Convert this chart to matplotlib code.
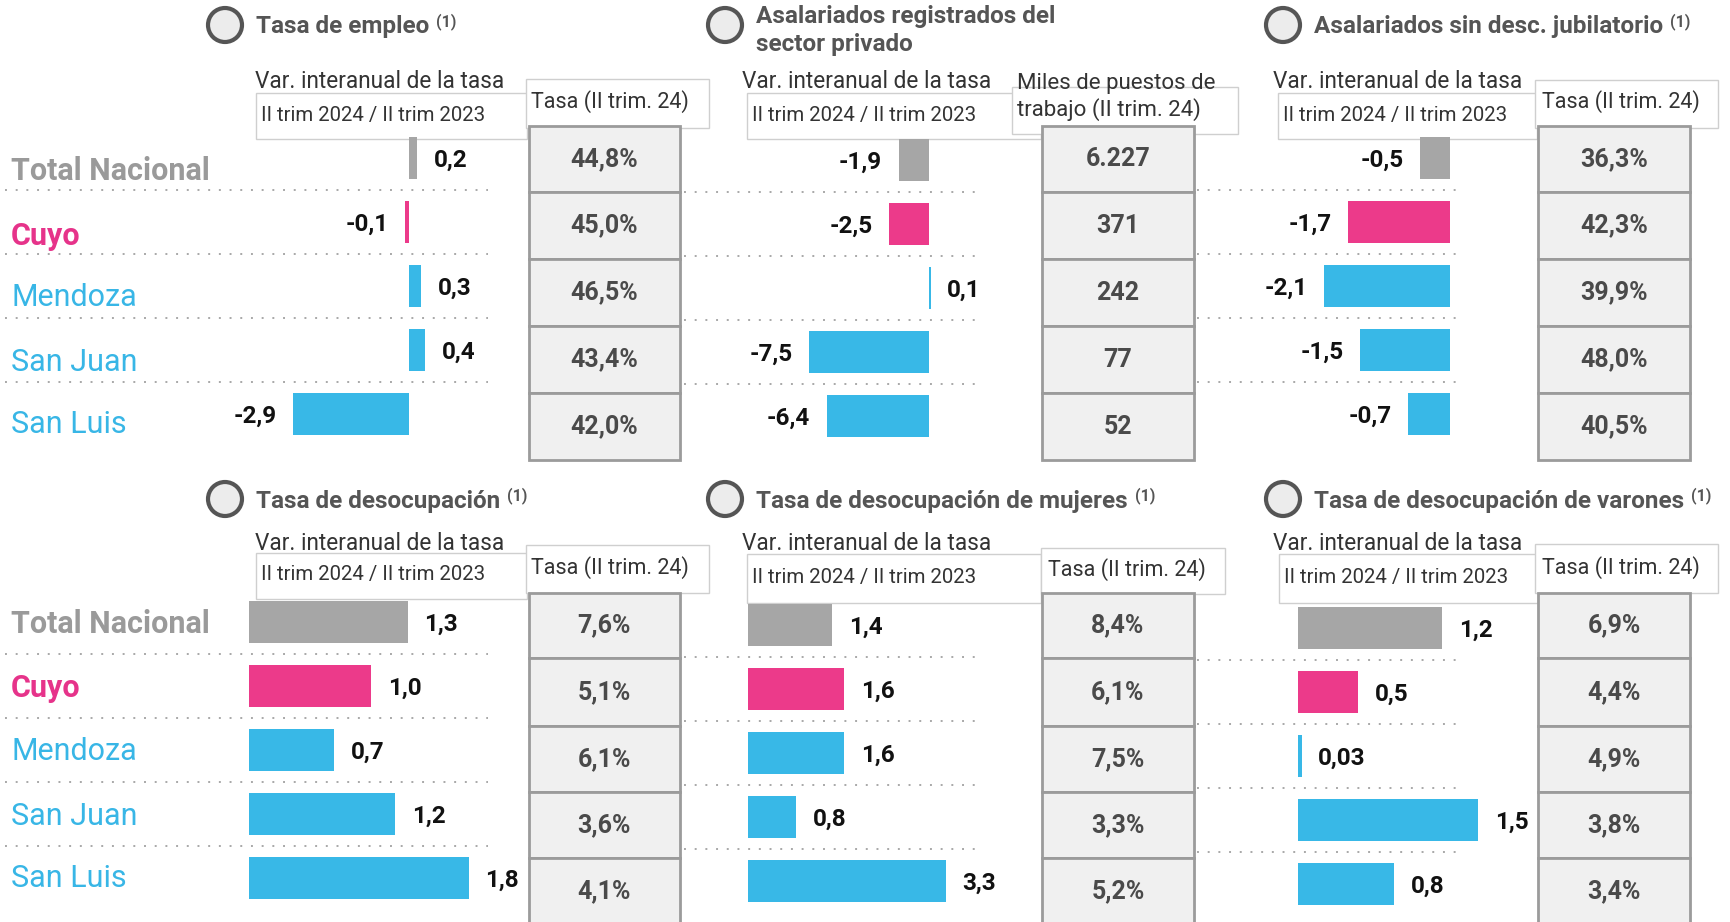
import matplotlib
matplotlib.use("Agg")
import matplotlib.pyplot as plt
from matplotlib.patches import Rectangle, Circle

plt.rcParams['font.family'] = ['Roboto', 'DejaVu Sans']

W, H = 1730, 922

regiones = ["Total Nacional", "Cuyo", "Mendoza", "San Juan", "San Luis"]

var_empleo = [0.2, -0.1, 0.3, 0.4, -2.9]
tasa_empleo = [44.8, 45.0, 46.5, 43.4, 42.0]
var_asal_reg = [-1.9, -2.5, 0.1, -7.5, -6.4]
miles_asal_reg = ["6.227", "371", "242", "77", "52"]
var_asal_sin = [-0.5, -1.7, -2.1, -1.5, -0.7]
tasa_asal_sin = [36.3, 42.3, 39.9, 48.0, 40.5]
var_desoc = [1.3, 1.0, 0.7, 1.2, 1.8]
tasa_desoc = [7.6, 5.1, 6.1, 3.6, 4.1]
var_desoc_muj = [1.4, 1.6, 1.6, 0.8, 3.3]
tasa_desoc_muj = [8.4, 6.1, 7.5, 3.3, 5.2]
var_desoc_var = [1.2, 0.5, 0.03, 1.5, 0.8]
tasa_desoc_var = [6.9, 4.4, 4.9, 3.8, 3.4]

GRIS, ROSA, CELESTE = "#a6a6a6", "#ec3a8a", "#38b8e7"
colores_barra = [GRIS, ROSA, CELESTE, CELESTE, CELESTE]
colores_region = ["#9a9a9a", "#e6338a", "#38b6e6", "#38b6e6", "#38b6e6"]


def coma(v):
    s = f"{v:.2f}" if abs(v) < 0.1 and v != 0 and abs(v * 10 - round(v * 10)) > 1e-6 else f"{v:.1f}"
    return s.replace(".", ",")


fig = plt.figure(figsize=(W / 100, H / 100), dpi=100)
bg = fig.add_axes([0, 0, 1, 1])
bg.set_xlim(0, W)
bg.set_ylim(H, 0)
bg.axis("off")


def titulo(cx, cy, lineas, sup=True):
    bg.add_patch(Circle((cx, cy), 17, facecolor="#ececec", edgecolor="#555555", lw=3, zorder=3))
    if len(lineas) == 1:
        t = bg.text(cx + 31, cy + 2, lineas[0], fontsize=17.5, fontweight="bold", color="#555555",
                    va="center", ha="left")
        if sup:
            bg.annotate("(1)", xy=(1, 1), xycoords=t, xytext=(5, 2), textcoords="offset points",
                        fontsize=11.5, fontweight="bold", color="#555555", va="top", ha="left")
    else:
        bg.text(cx + 31, cy - 8, lineas[0], fontsize=17.5, fontweight="bold", color="#555555", va="center")
        bg.text(cx + 31, cy + 20, lineas[1], fontsize=17.5, fontweight="bold", color="#555555", va="center")


def caja(x0, y0, x1, y1):
    bg.add_patch(Rectangle((x0, y0), x1 - x0, y1 - y0, facecolor="white", edgecolor="#cfcfcf", lw=1, zorder=1))


def encabezado(xv, yv, ii_box, yii, col_box, col_lines, col_text_xy):
    bg.text(xv, yv, "Var. interanual de la tasa", fontsize=16.3, color="#333333", va="center", zorder=4)
    caja(*ii_box)
    bg.text(ii_box[0] + 5, yii, "II trim 2024 / II trim 2023", fontsize=14.7, color="#333333",
            va="center", zorder=4)
    caja(*col_box)
    tx, ty = col_text_xy
    fs = 15.5 if len(col_lines) == 1 else 16
    for k, ln in enumerate(col_lines):
        bg.text(tx, ty + 26 * k, ln, fontsize=fs, color="#333333", va="center", zorder=4)


def tabla(x0, x1, filas, textos):
    for i, txt in enumerate(textos):
        y0, y1 = filas[i], filas[i + 1]
        bg.add_patch(Rectangle((x0, y0), x1 - x0, y1 - y0, facecolor="#f0f0f0", edgecolor="#9b9b9b",
                               lw=2, zorder=2))
        bg.text((x0 + x1) / 2, (y0 + y1) / 2, txt, fontsize=18, fontweight="bold", color="#4a4a4a",
                ha="center", va="center", zorder=3)


def barras(vals, x_left, x_right, zero, escala, c_top, paso=64, alto=42):
    y_top = c_top - paso / 2
    y_bot = c_top + 4 * paso + paso / 2
    ax = fig.add_axes([x_left / W, 1 - y_bot / H, (x_right - x_left) / W, (y_bot - y_top) / H])
    ax.patch.set_alpha(0)
    ax.set_xlim((x_left - zero) / escala, (x_right - zero) / escala)
    ax.set_ylim(4.5, -0.5)
    ax.barh(range(len(vals)), vals, height=alto / paso, color=colores_barra, zorder=2, clip_on=False)
    for i in range(len(vals) - 1):
        ax.axhline(i + 0.5, color="#a8a8a8", lw=1.4, ls=(0, (1, 4.5)), zorder=1)
    for i, v in enumerate(vals):
        off = 12 if v >= 0 else -12
        ax.annotate(coma(v), xy=(v, i), xytext=(off, -2), textcoords="offset points",
                    ha="left" if v >= 0 else "right", va="center", fontsize=17.5,
                    fontweight="bold", color="#111111", annotation_clip=False)
    ax.axis("off")
    return ax


def etiquetas_regiones(bases):
    for i, (r, b) in enumerate(zip(regiones, bases)):
        bold = i < 2
        bg.text(11, b, r, fontsize=22, fontweight="bold" if bold else "normal",
                color=colores_region[i], va="baseline", ha="left")


pct = lambda vals: [coma(v) + "%" for v in vals]

filas_sup = [126, 192, 259, 326, 393, 460]
filas_inf = [593, 658, 726, 792, 858, 924]

# ---- fila superior ----
titulo(225, 25, ["Tasa de empleo"])
encabezado(255, 82, (256, 93, 527, 139), 115, (526, 79, 709, 128), ["Tasa (II trim. 24)"], (531, 102))
tabla(529, 680, filas_sup, pct(tasa_empleo))
etiquetas_regiones([180, 245, 306, 371, 433])
barras(var_empleo, 5, 488, 409, 40, 158)

titulo(725, 25, ["Asalariados registrados del", "sector privado"], sup=False)
encabezado(742, 82, (747, 93, 1041, 139), 115, (1012, 87, 1238, 134),
           ["Miles de puestos de", "trabajo (II trim. 24)"], (1017, 84))
tabla(1042, 1194, filas_sup, miles_asal_reg)
barras(var_asal_reg, 684, 976, 929, 16, 160)

titulo(1283, 25, ["Asalariados sin desc. jubilatorio"])
encabezado(1273, 82, (1278, 93, 1537, 139), 115, (1535, 80, 1718, 128), ["Tasa (II trim. 24)"], (1542, 102))
tabla(1538, 1690, filas_sup, pct(tasa_asal_sin))
barras(var_asal_sin, 1197, 1463, 1450, 60, 158)

# ---- fila inferior ----
titulo(225, 499, ["Tasa de desocupación"])
encabezado(255, 543, (256, 553, 527, 599), 574, (526, 545, 709, 593), ["Tasa (II trim. 24)"], (531, 568))
tabla(529, 680, filas_inf, pct(tasa_desoc))
etiquetas_regiones([633, 697, 760, 825, 887])
barras(var_desoc, 5, 488, 249, 122, 622)

titulo(725, 499, ["Tasa de desocupación de mujeres"])
encabezado(742, 543, (747, 554, 1041, 603), 577, (1041, 548, 1225, 594), ["Tasa (II trim. 24)"], (1048, 570))
tabla(1042, 1194, filas_inf, pct(tasa_desoc_muj))
barras(var_desoc_muj, 684, 976, 748, 60, 625)

titulo(1283, 499, ["Tasa de desocupación de varones"])
encabezado(1273, 543, (1279, 554, 1538, 603), 577, (1535, 544, 1718, 593), ["Tasa (II trim. 24)"], (1542, 568))
tabla(1538, 1690, filas_inf, pct(tasa_desoc_var))
barras(var_desoc_var, 1197, 1463, 1298, 120, 628)

fig.savefig("out.png", dpi=100)
